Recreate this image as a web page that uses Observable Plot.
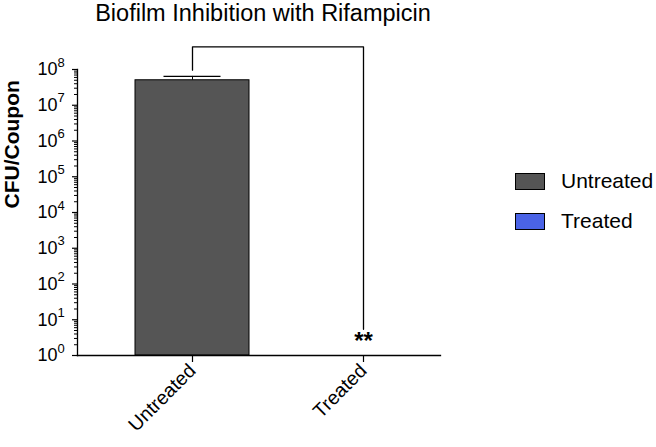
<!DOCTYPE html>
<html>
<head>
<meta charset="utf-8">
<script src="https://cdn.jsdelivr.net/npm/d3@7"></script>
<script src="https://cdn.jsdelivr.net/npm/@observablehq/plot@0.6"></script>
<style>
  html, body { margin: 0; padding: 0; background: #fff; }
  #wrap { position: relative; width: 656px; height: 447px; font-family: "Liberation Sans", Arial, sans-serif; }
  #title { position: absolute; left: 0; width: 526px; top: 0px; text-align: center; font-size: 23.5px; color: #000; }
  .sw { position: absolute; left: 515px; width: 28px; height: 15px; border: 1px solid #000; }
  .lt { position: absolute; left: 561px; font-size: 21px; line-height: 24px; color: #000; }
</style>
</head>
<body>
<div id="wrap">
  <div id="title">Biofilm Inhibition with Rifampicin</div>
</div>
<script>
const groups = ["Untreated", "Treated"];
const means = [5.0e7, 1];
const errorTops = [6.4e7, 1];
const colors = ["#555555", "#4a63e6"];
const majorTicks = [1, 1e1, 1e2, 1e3, 1e4, 1e5, 1e6, 1e7, 1e8];
const exponents = ["0","1","2","3","4","5","6","7","8"];
const minorTicks = [];
for (let k = 0; k < 8; k++) for (let m = 2; m <= 9; m++) minorTicks.push(m * Math.pow(10, k));
const bracketPath = [
  {x: "Untreated", y: 9.6e7},
  {x: "Untreated", y: 4.3e8},
  {x: "Treated", y: 4.3e8},
  {x: "Treated", y: 5.4}
];
const sigLabel = "**";
const yLabel = "CFU/Coupon";

const data = groups.map((g, i) => ({group: g, mean: means[i], top: errorTops[i], color: colors[i]}));
const tickData = majorTicks.map((v, i) => ({v, e: exponents[i]}));

const chart = Plot.plot({
  width: 656,
  height: 447,
  marginLeft: 77,
  marginRight: 216,
  marginTop: 69,
  marginBottom: 92,
  style: {fontFamily: "Liberation Sans, Arial, sans-serif", color: "#000", background: "transparent", overflow: "visible"},
  x: {type: "band", domain: groups, range: [134, 421], paddingInner: 0.331, paddingOuter: 0, label: null},
  y: {type: "log", domain: [1, 1e8], label: null},
  marks: [
    Plot.barY(data, {x: "group", y1: 1, y2: "mean", fill: "color", stroke: "#000", strokeWidth: 1}),
    Plot.ruleX(data.filter(d => d.top > d.mean), {x: "group", y1: "mean", y2: "top", stroke: "#000", strokeWidth: 1}),
    Plot.tickY(data.filter(d => d.top > d.mean), {x: "group", y: "top", stroke: "#000", strokeWidth: 1.3, insetLeft: 28.5, insetRight: 28.5}),
    Plot.line(bracketPath, {x: "x", y: "y", stroke: "#000", strokeWidth: 1.3}),
    Plot.text([sigLabel], {x: () => "Treated", y: () => 1, dy: -14, fontSize: 24, fontWeight: "bold", text: d => d}),
    Plot.axisY({ticks: majorTicks, tickSize: 5, tickFormat: () => "", label: null, strokeWidth: 1.2}),
    Plot.axisY({ticks: minorTicks, tickSize: 3, tickFormat: () => "", label: null}),
    Plot.text(tickData, {frameAnchor: "left", y: "v", text: () => "10", textAnchor: "end", dx: -20, fontSize: 18}),
    Plot.text(tickData, {frameAnchor: "left", y: "v", text: "e", textAnchor: "start", dx: -20, dy: -7, fontSize: 13}),
    Plot.axisX({tickSize: 7, tickRotate: -45, fontSize: 19.5, tickPadding: 5, label: null, strokeWidth: 1.2}),
    Plot.frame({anchor: "left", stroke: "#000", strokeWidth: 1.3}),
    Plot.frame({anchor: "bottom", stroke: "#000", strokeWidth: 1.3}),
    Plot.text([yLabel], {frameAnchor: "left", rotate: -90, dx: -65, dy: -4, fontSize: 21, fontWeight: "bold", text: d => d})
  ]
});
const wrap = document.getElementById("wrap");
chart.style.position = "absolute";
chart.style.left = "0";
chart.style.top = "0";
wrap.appendChild(chart);

groups.forEach((g, i) => {
  const sw = document.createElement("div");
  sw.className = "sw";
  sw.style.background = colors[i];
  sw.style.top = (173 + i * 40) + "px";
  const t = document.createElement("div");
  t.className = "lt";
  t.textContent = g;
  t.style.top = (169 + i * 40) + "px";
  wrap.appendChild(sw);
  wrap.appendChild(t);
});
</script>
</body>
</html>
